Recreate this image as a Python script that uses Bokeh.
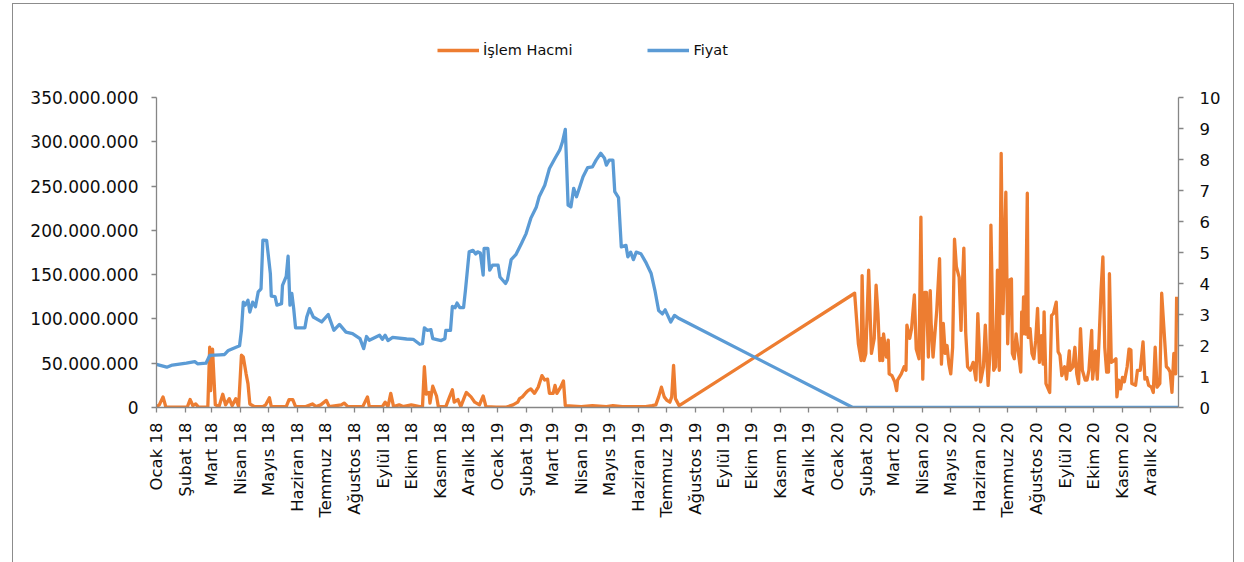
import pandas as pd
from bokeh.plotting import figure
from bokeh.layouts import column
from bokeh.models import Range1d, LinearAxis, FixedTicker, Legend, LegendItem
from bokeh.embed import file_html
from bokeh.resources import INLINE

# ---- data ---------------------------------------------------------------
aylar = ["Ocak", "Şubat", "Mart", "Nisan", "Mayıs", "Haziran", "Temmuz",
         "Ağustos", "Eylül", "Ekim", "Kasım", "Aralık"]
yillar = ["18", "19", "20"]

# Fiyat (TL), right axis
fiyat_tarih = [
    "2018-01-01", "2018-01-12", "2018-01-18", "2018-02-02", "2018-02-11", "2018-02-14",
    "2018-02-23", "2018-02-27", "2018-03-10", "2018-03-15", "2018-03-19", "2018-03-26",
    "2018-03-31", "2018-04-02", "2018-04-04", "2018-04-06", "2018-04-09", "2018-04-11",
    "2018-04-14", "2018-04-17", "2018-04-20", "2018-04-23", "2018-04-25", "2018-04-29",
    "2018-05-03", "2018-05-04", "2018-05-08", "2018-05-10", "2018-05-15", "2018-05-16",
    "2018-05-20", "2018-05-22", "2018-05-24", "2018-05-26", "2018-05-28", "2018-05-30",
    "2018-06-09", "2018-06-11", "2018-06-14", "2018-06-18", "2018-06-27", "2018-07-04",
    "2018-07-06", "2018-07-10", "2018-07-16", "2018-07-23", "2018-07-30", "2018-08-07",
    "2018-08-11", "2018-08-14", "2018-08-17", "2018-08-28", "2018-08-31", "2018-09-03",
    "2018-09-06", "2018-09-11", "2018-09-26", "2018-10-03", "2018-10-10", "2018-10-13",
    "2018-10-15", "2018-10-18", "2018-10-22", "2018-10-24", "2018-11-02", "2018-11-06",
    "2018-11-07", "2018-11-12", "2018-11-14", "2018-11-17", "2018-11-19", "2018-11-22",
    "2018-11-26", "2018-11-28", "2018-12-02", "2018-12-06", "2018-12-09", "2018-12-11",
    "2018-12-14", "2018-12-17", "2018-12-18", "2018-12-22", "2018-12-24", "2018-12-27",
    "2019-01-02", "2019-01-04", "2019-01-10", "2019-01-12", "2019-01-16", "2019-01-21",
    "2019-01-27", "2019-02-01", "2019-02-06", "2019-02-12", "2019-02-15", "2019-02-21",
    "2019-02-26", "2019-03-04", "2019-03-09", "2019-03-12", "2019-03-15", "2019-03-18",
    "2019-03-21", "2019-03-24", "2019-03-27", "2019-03-30", "2019-04-03", "2019-04-08",
    "2019-04-13", "2019-04-17", "2019-04-22", "2019-04-26", "2019-04-28", "2019-05-01",
    "2019-05-05", "2019-05-07", "2019-05-11", "2019-05-14", "2019-05-19", "2019-05-21",
    "2019-05-24", "2019-05-27", "2019-05-30", "2019-06-04", "2019-06-09", "2019-06-15",
    "2019-06-19", "2019-06-23", "2019-06-27", "2019-06-30", "2019-07-06", "2019-07-10",
    "2019-07-15", "2020-01-17", "2020-12-31",
]
fiyat = [
    1.39, 1.30, 1.37, 1.43, 1.48, 1.41,
    1.43, 1.68, 1.70, 1.71, 1.84, 1.93,
    1.99, 2.49, 3.40, 3.30, 3.46, 3.08,
    3.40, 3.25, 3.73, 3.83, 5.40, 5.39,
    4.32, 3.59, 3.58, 3.30, 3.35, 3.94,
    4.23, 4.88, 3.30, 3.68, 3.19, 2.57,
    2.57, 2.92, 3.19, 2.92, 2.76, 3.00,
    2.83, 2.49, 2.68, 2.43, 2.38, 2.22,
    1.90, 2.29, 2.17, 2.33, 2.20, 2.33,
    2.16, 2.26, 2.21, 2.20, 2.04, 2.06,
    2.57, 2.49, 2.51, 2.22, 2.16, 2.22,
    2.49, 2.49, 3.26, 3.22, 3.37, 3.22,
    3.22, 3.78, 5.02, 5.07, 4.95, 5.02,
    4.98, 4.27, 5.13, 5.13, 4.43, 4.59,
    4.59, 4.21, 4.00, 4.12, 4.77, 4.93,
    5.29, 5.61, 6.10, 6.47, 6.80, 7.17,
    7.71, 8.04, 8.30, 8.57, 8.97, 6.53,
    6.47, 7.07, 6.80, 7.07, 7.44, 7.74,
    7.76, 7.98, 8.20, 8.04, 7.82, 7.98,
    7.98, 6.96, 6.77, 5.18, 5.23, 4.86,
    5.01, 4.77, 5.01, 4.96, 4.70, 4.32,
    3.78, 3.13, 3.02, 3.15, 2.76, 2.97,
    2.87, 0.0, 0.0,
]

# İşlem hacmi (million shares), left axis
hacim_tarih = [
    "2018-01-01", "2018-01-04", "2018-01-08", "2018-01-11", "2018-02-03", "2018-02-06",
    "2018-02-09", "2018-02-12", "2018-02-15", "2018-02-25", "2018-02-27", "2018-02-28",
    "2018-03-02", "2018-03-05", "2018-03-09", "2018-03-13", "2018-03-16", "2018-03-20",
    "2018-03-23", "2018-03-27", "2018-03-30", "2018-04-02", "2018-04-04", "2018-04-07",
    "2018-04-09", "2018-04-11", "2018-04-16", "2018-04-25", "2018-04-28", "2018-05-02",
    "2018-05-04", "2018-05-20", "2018-05-23", "2018-05-27", "2018-05-30", "2018-06-10",
    "2018-06-17", "2018-06-21", "2018-06-26", "2018-07-02", "2018-07-05", "2018-07-18",
    "2018-07-21", "2018-07-25", "2018-08-10", "2018-08-15", "2018-08-17", "2018-08-31",
    "2018-09-03", "2018-09-06", "2018-09-09", "2018-09-12", "2018-09-18", "2018-09-22",
    "2018-10-01", "2018-10-10", "2018-10-13", "2018-10-15", "2018-10-17", "2018-10-20",
    "2018-10-21", "2018-10-24", "2018-10-28", "2018-10-30", "2018-11-07", "2018-11-11",
    "2018-11-14", "2018-11-16", "2018-11-20", "2018-11-23", "2018-11-27", "2018-11-29",
    "2018-12-04", "2018-12-08", "2018-12-13", "2018-12-17", "2018-12-20", "2018-12-31",
    "2019-01-11", "2019-01-18", "2019-01-23", "2019-01-25", "2019-01-28", "2019-02-01",
    "2019-02-03", "2019-02-06", "2019-02-10", "2019-02-14", "2019-02-18", "2019-02-21",
    "2019-02-24", "2019-02-26", "2019-03-02", "2019-03-04", "2019-03-06", "2019-03-10",
    "2019-03-13", "2019-03-15", "2019-04-01", "2019-04-13", "2019-04-28", "2019-05-05",
    "2019-05-15", "2019-06-09", "2019-06-16", "2019-06-20", "2019-06-23", "2019-06-26",
    "2019-06-29", "2019-07-02", "2019-07-05", "2019-07-07", "2019-07-09", "2019-07-11",
    "2019-07-15",
    "2020-01-19", "2020-01-23", "2020-01-26", "2020-01-27", "2020-01-29", "2020-01-31",
    "2020-02-03", "2020-02-06", "2020-02-09", "2020-02-11", "2020-02-13", "2020-02-15",
    "2020-02-17", "2020-02-18", "2020-02-19", "2020-02-22", "2020-02-24", "2020-02-25",
    "2020-02-28", "2020-03-02", "2020-03-04", "2020-03-05", "2020-03-09", "2020-03-12",
    "2020-03-14", "2020-03-15", "2020-03-18", "2020-03-20", "2020-03-21", "2020-03-23",
    "2020-03-25", "2020-03-28", "2020-03-30", "2020-04-01", "2020-04-03", "2020-04-05",
    "2020-04-07", "2020-04-09", "2020-04-10", "2020-04-12", "2020-04-16", "2020-04-19",
    "2020-04-21", "2020-04-23", "2020-04-25", "2020-04-27", "2020-04-29", "2020-05-01",
    "2020-05-03", "2020-05-05", "2020-05-07", "2020-05-10", "2020-05-12", "2020-05-13",
    "2020-05-15", "2020-05-17", "2020-05-19", "2020-05-22", "2020-05-25", "2020-05-28",
    "2020-05-30", "2020-06-02", "2020-06-05", "2020-06-07", "2020-06-10", "2020-06-12",
    "2020-06-13", "2020-06-16", "2020-06-18", "2020-06-20", "2020-06-22", "2020-06-24",
    "2020-06-26", "2020-06-27", "2020-06-29", "2020-07-01", "2020-07-03", "2020-07-05",
    "2020-07-06", "2020-07-08", "2020-07-10", "2020-07-13", "2020-07-15", "2020-07-16",
    "2020-07-17", "2020-07-18", "2020-07-20", "2020-07-22", "2020-07-23", "2020-07-25",
    "2020-07-27", "2020-07-29", "2020-07-31", "2020-08-02", "2020-08-04", "2020-08-06",
    "2020-08-08", "2020-08-09", "2020-08-11", "2020-08-15", "2020-08-17", "2020-08-19",
    "2020-08-22", "2020-08-24", "2020-08-26", "2020-08-28", "2020-08-31", "2020-09-02",
    "2020-09-05", "2020-09-06", "2020-09-09", "2020-09-11", "2020-09-13", "2020-09-15",
    "2020-09-17", "2020-09-19", "2020-09-22", "2020-09-24", "2020-09-26", "2020-09-29",
    "2020-09-30", "2020-10-03", "2020-10-05", "2020-10-07", "2020-10-09", "2020-10-11",
    "2020-10-13", "2020-10-15", "2020-10-17", "2020-10-18", "2020-10-20", "2020-10-23",
    "2020-10-25", "2020-10-26", "2020-10-28", "2020-10-30", "2020-11-01", "2020-11-03",
    "2020-11-06", "2020-11-08", "2020-11-10", "2020-11-11", "2020-11-15", "2020-11-17",
    "2020-11-20", "2020-11-23", "2020-11-25", "2020-11-27", "2020-11-29", "2020-12-02",
    "2020-12-04", "2020-12-06", "2020-12-08", "2020-12-11", "2020-12-13", "2020-12-16",
    "2020-12-18", "2020-12-20", "2020-12-22", "2020-12-24", "2020-12-26", "2020-12-28",
    "2020-12-29",
]
hacim_milyon = [
    1, 3, 12, 0.5, 0.5, 9,
    2, 4, 0.5, 0.5, 68, 19,
    66, 3, 1, 15, 3, 10,
    2, 10, 1, 59, 57, 38,
    27, 4, 1, 1, 3, 11,
    1, 1, 9, 9, 1, 1,
    4, 1, 3, 8, 1, 3,
    5, 1, 1, 12, 1, 1,
    6, 1, 16, 1, 3, 1,
    3, 1, 1, 46, 15, 17,
    5, 24, 13, 1, 1, 12,
    20, 6, 9, 1, 12, 17,
    12, 6, 3, 13, 1, 0.5,
    0.5, 3, 6, 10, 12, 17,
    19, 21, 16, 23, 36, 31,
    32, 16, 16, 25, 16, 23,
    30, 2, 1, 2, 1, 2,
    1, 1, 2, 3, 12, 23,
    12, 8, 6, 12, 47.5, 10,
    2,
    129, 72, 53, 149, 53, 61,
    155, 61, 78, 138, 106, 53,
    78, 53, 83, 57, 76, 38,
    36, 29, 19, 31, 38, 46,
    42, 93, 78, 89, 102, 127,
    66, 55, 215, 32, 130, 130,
    57, 132, 95, 57, 110, 168,
    49, 95, 61, 70, 49, 38,
    68, 190, 159, 147, 87, 125,
    180, 85, 46, 42, 51, 31,
    106, 29, 46, 93, 25, 61,
    206, 42, 46, 155, 42, 287,
    106, 150, 243, 72, 144, 145,
    61, 55, 83, 57, 40, 108,
    83, 125, 83, 242, 79, 89,
    61, 55, 76, 112, 51, 81,
    49, 108, 27, 17, 104, 106,
    119, 63, 59, 36, 46, 32,
    64, 42, 46, 68, 38, 27,
    89, 42, 31, 31, 42, 87,
    32, 64, 32, 79, 132, 170,
    68, 40, 40, 151, 51, 53,
    55, 12, 31, 21, 34, 29,
    46, 66, 65, 27, 25, 42,
    42, 74, 32, 34, 25, 23,
    17, 68, 23, 27, 129, 79,
    46, 44, 40, 17, 61, 38,
    125,
]

hacim_ticks = [0, 50, 100, 150, 200, 250, 300, 350]
hacim_tick_labels = ["0", "50.000.000", "100.000.000", "150.000.000", "200.000.000",
                     "250.000.000", "300.000.000", "350.000.000"]
fiyat_ticks = [0, 1, 2, 3, 4, 5, 6, 7, 8, 9, 10]

# ---- styling ------------------------------------------------------------
TURUNCU = "#ED7D31"
MAVI = "#5B9BD5"
EKSEN = "#868686"
YAZI = "#0d0d0d"
FONT = "DejaVu Sans"
CIZGI = 3.3

ay_baslari = pd.date_range("2018-01-01", "2020-12-01", freq="MS")
ay_ms = [int(t.value // 10**6) for t in ay_baslari]
ay_etiket = [f"{aylar[t.month - 1]} {yillar[t.year - 2018]}" for t in ay_baslari]

# The frame reaches up into the legend strip; the axes themselves are
# bounded to 0..350 M and 0..10, which occupy the lower 310 px of it.
UST = 16          # frame top inside the canvas
ALT = 155         # space below the frame for the month labels
H = 558
frame_h = H - UST - ALT
veri_h = 310
oran = frame_h / veri_h

p = figure(width=1220, height=H, output_backend="svg", toolbar_location=None,
           x_axis_type=None, y_axis_type=None,
           x_range=Range1d(pd.Timestamp("2018-01-01"), pd.Timestamp("2020-12-31")),
           y_range=Range1d(0, 350 * oran),
           min_border_left=143, min_border_right=55, min_border_top=UST,
           min_border_bottom=ALT)
p.extra_y_ranges = {"fiyat": Range1d(0, 10 * oran)}
p.outline_line_color = None
p.xgrid.visible = False
p.ygrid.visible = False
p.background_fill_color = "white"
p.border_fill_color = "white"


def stil(ax, size="16.5px"):
    ax.axis_line_color = EKSEN
    ax.axis_line_width = 1.3
    ax.major_tick_line_color = EKSEN
    ax.major_tick_line_width = 1.3
    ax.major_tick_in = 0
    ax.major_tick_out = 5
    ax.minor_tick_line_color = None
    ax.major_label_text_font = FONT
    ax.major_label_text_font_size = size
    ax.major_label_text_color = YAZI


x_ax = LinearAxis(ticker=FixedTicker(ticks=ay_ms),
                  major_label_overrides=dict(zip(ay_ms, ay_etiket)),
                  major_label_orientation=1.5707963, major_label_standoff=10)
stil(x_ax)
p.add_layout(x_ax, "below")

sol_ax = LinearAxis(ticker=FixedTicker(ticks=hacim_ticks), bounds=(0, 350),
                    major_label_overrides=dict(zip(hacim_ticks, hacim_tick_labels)),
                    major_label_standoff=13)
stil(sol_ax, "17px")
p.add_layout(sol_ax, "left")

sag_ax = LinearAxis(y_range_name="fiyat", ticker=FixedTicker(ticks=fiyat_ticks),
                    bounds=(0, 10), major_label_standoff=16)
stil(sag_ax)
p.add_layout(sag_ax, "right")

r_hacim = p.line(pd.to_datetime(hacim_tarih), hacim_milyon, line_color=TURUNCU,
                 line_width=CIZGI, line_join="round")
r_fiyat = p.line(pd.to_datetime(fiyat_tarih), fiyat, y_range_name="fiyat",
                 line_color=MAVI, line_width=CIZGI, line_join="round")

legend = Legend(items=[LegendItem(label="İşlem Hacmi", renderers=[r_hacim]),
                       LegendItem(label="Fiyat", renderers=[r_fiyat])],
                orientation="horizontal", location=(281, 347),
                glyph_width=42, glyph_height=20, label_height=20,
                label_standoff=4, spacing=75, padding=0, margin=0,
                border_line_color=None, background_fill_alpha=0,
                label_text_font=FONT, label_text_font_size="14.5px",
                label_text_color=YAZI)
p.add_layout(legend, "center")

# thin grey chart-area border around the canvas
kenar = "1px solid #8c8c8c"
sayfa = column(p, styles={"margin-left": "12px", "margin-top": "3px",
                          "border-left": kenar, "border-top": kenar,
                          "border-right": kenar})

open("out.html", "w").write(file_html(sayfa, INLINE))
